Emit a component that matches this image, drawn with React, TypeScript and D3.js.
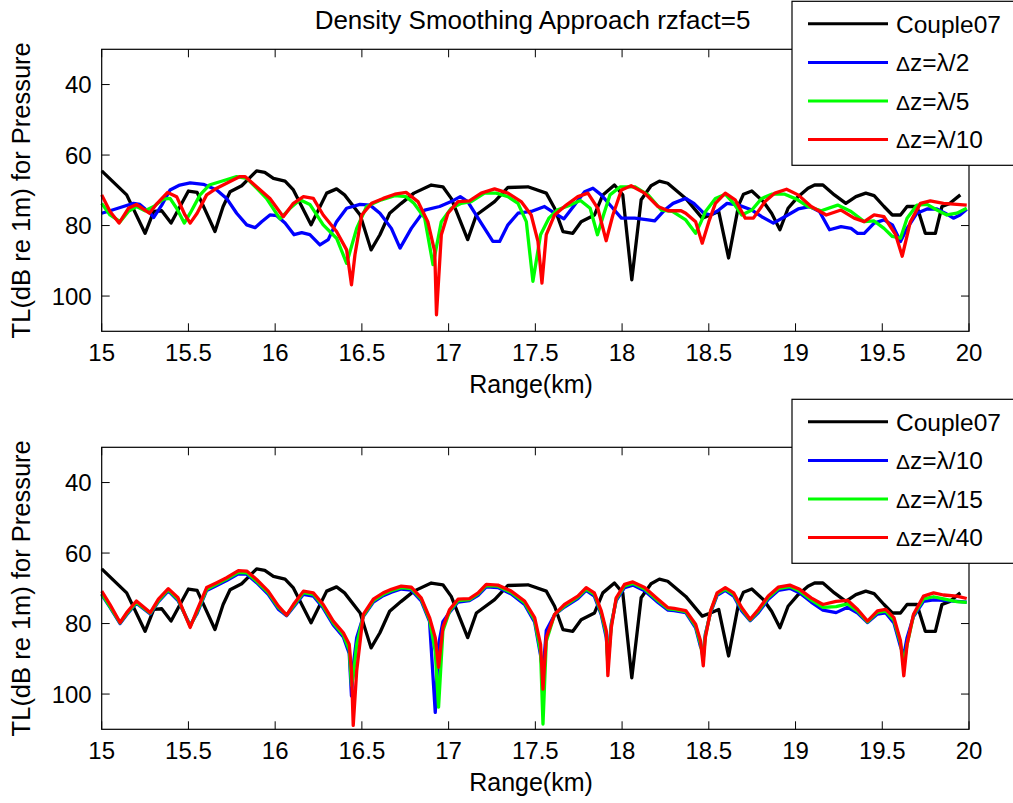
import React from "react";
import * as d3 from "d3";

// ---------- Data ----------
const couple07Range = [15, 15.144, 15.25, 15.3, 15.346, 15.4, 15.5, 15.55, 15.653, 15.7, 15.74, 15.807, 15.893, 15.94, 15.99, 16.057, 16.105, 16.207, 16.297, 16.354, 16.4, 16.49, 16.553, 16.604, 16.66, 16.727, 16.8, 16.9, 16.967, 17.015, 17.11, 17.16, 17.265, 17.342, 17.457, 17.563, 17.611, 17.659, 17.716, 17.764, 17.841, 17.889, 17.956, 18.004, 18.056, 18.11, 18.167, 18.215, 18.263, 18.367, 18.462, 18.51, 18.557, 18.614, 18.672, 18.7, 18.748, 18.814, 18.862, 18.91, 18.957, 19.015, 19.072, 19.11, 19.158, 19.224, 19.29, 19.348, 19.405, 19.453, 19.51, 19.558, 19.605, 19.643, 19.7, 19.748, 19.806, 19.844, 19.89, 19.95];
const couple07TL = [64.5, 71.3, 82.2, 76, 75.8, 79.3, 70.2, 70.6, 81.7, 74.6, 70.4, 68.7, 64.5, 64.9, 66.6, 67.4, 69.9, 79.8, 70.8, 69.6, 71.3, 77, 86.9, 82.6, 76.5, 73.7, 70.8, 68.5, 69, 72.3, 84, 77, 73.2, 69.2, 69, 70.8, 75.1, 81.7, 82.2, 78.9, 77, 71.3, 68.5, 71.3, 95.4, 72.7, 68.7, 67.4, 68, 72.3, 77.9, 77, 76, 89.2, 74.2, 71.1, 70.2, 73.2, 76.5, 81.2, 75.1, 71.8, 69.4, 68.5, 68.5, 71.3, 73.7, 71.8, 70.8, 71.5, 74.6, 77, 77, 74.6, 74.6, 82.2, 82.2, 74.6, 73.7, 71.3];

const dzHalfRange = [15, 15.048, 15.125, 15.183, 15.22, 15.28, 15.3, 15.346, 15.394, 15.45, 15.51, 15.586, 15.663, 15.72, 15.778, 15.836, 15.884, 15.922, 15.97, 16.009, 16.057, 16.109, 16.153, 16.2, 16.258, 16.306, 16.354, 16.412, 16.489, 16.547, 16.604, 16.67, 16.72, 16.785, 16.862, 16.948, 17.015, 17.067, 17.11, 17.188, 17.255, 17.294, 17.342, 17.4, 17.476, 17.553, 17.611, 17.665, 17.726, 17.784, 17.832, 17.88, 17.938, 17.996, 18.073, 18.15, 18.188, 18.245, 18.294, 18.367, 18.414, 18.471, 18.51, 18.557, 18.605, 18.672, 18.748, 18.805, 18.872, 18.938, 19.015, 19.081, 19.138, 19.196, 19.262, 19.32, 19.358, 19.396, 19.453, 19.51, 19.558, 19.605, 19.643, 19.7, 19.758, 19.815, 19.863, 19.91, 19.948, 19.987];
const dzHalfTL = [76.5, 75.8, 74.6, 73.7, 74, 76.5, 77.7, 74.2, 69.9, 68.5, 67.9, 68.3, 69.9, 72.3, 76.5, 79.8, 80.6, 78.9, 77, 77.2, 79.3, 82.6, 82, 82.6, 85.5, 84, 78.9, 75.1, 74, 74.2, 76.5, 80.8, 86.4, 80.8, 75.6, 74.6, 73.2, 71.8, 73.2, 79.3, 84.5, 84.5, 79.8, 76.5, 76, 74.6, 76.5, 78.1, 74.2, 70.4, 69.4, 71.3, 74.6, 77.9, 77.9, 78.4, 78.7, 75.6, 73.7, 72.3, 73.7, 76.5, 77, 75.6, 73.7, 74.2, 75.6, 77.5, 79.3, 77.5, 75.3, 74.6, 76, 81.2, 80.3, 80.8, 82.2, 82.2, 79.3, 78.4, 79.8, 84.5, 80.8, 76.5, 75.3, 75.3, 76.5, 77.9, 77, 75.4];

const dzFifthRange = [15, 15.048, 15.106, 15.154, 15.2, 15.25, 15.3, 15.355, 15.394, 15.432, 15.476, 15.51, 15.567, 15.62, 15.7, 15.778, 15.836, 15.893, 15.95, 16.028, 16.086, 16.143, 16.2, 16.277, 16.354, 16.412, 16.47, 16.527, 16.612, 16.69, 16.755, 16.8, 16.862, 16.91, 16.958, 17.015, 17.073, 17.13, 17.207, 17.274, 17.342, 17.4, 17.448, 17.486, 17.53, 17.578, 17.626, 17.7, 17.76, 17.816, 17.858, 17.893, 17.93, 17.99, 18.073, 18.15, 18.226, 18.29, 18.367, 18.424, 18.452, 18.481, 18.538, 18.595, 18.643, 18.69, 18.748, 18.805, 18.862, 18.938, 19.005, 19.072, 19.148, 19.243, 19.32, 19.396, 19.453, 19.51, 19.558, 19.605, 19.643, 19.7, 19.758, 19.815, 19.872, 19.93, 19.987];
const dzFifthTL = [73.7, 77, 78.9, 76, 74.6, 75.8, 74.6, 72.5, 72.3, 75.1, 79.3, 76.5, 71.3, 68.5, 67.3, 66.1, 66.6, 69.4, 72.3, 78.1, 75.1, 72.7, 74, 79.8, 83.6, 90.7, 80.8, 74.6, 72.7, 71.5, 71.8, 73.7, 77.9, 91.1, 78.9, 75.1, 73.7, 73.2, 70.8, 70.8, 71.8, 73.7, 78.9, 95.8, 82.6, 77.9, 75.6, 74.2, 72.9, 75.1, 82.6, 77, 71.3, 69, 69, 71.3, 75.6, 76, 78.4, 82.2, 79.3, 76, 72.3, 71.1, 73.7, 77, 75.6, 72.3, 71.1, 71.1, 72.5, 74.6, 75.8, 74.2, 76, 78.9, 78.7, 80.8, 83.1, 83.6, 77.9, 74.2, 74, 75.6, 77, 76.5, 75.1];

const dzTenthRange = [15, 15.048, 15.1, 15.154, 15.2, 15.275, 15.32, 15.38, 15.432, 15.48, 15.51, 15.55, 15.605, 15.663, 15.74, 15.797, 15.826, 15.893, 15.97, 16.047, 16.105, 16.163, 16.22, 16.277, 16.354, 16.412, 16.44, 16.46, 16.499, 16.556, 16.623, 16.69, 16.755, 16.823, 16.88, 16.92, 16.93, 16.958, 16.996, 17.054, 17.12, 17.188, 17.265, 17.342, 17.418, 17.476, 17.515, 17.538, 17.563, 17.611, 17.678, 17.745, 17.803, 17.86, 17.908, 17.947, 17.996, 18.052, 18.13, 18.207, 18.265, 18.34, 18.367, 18.424, 18.462, 18.5, 18.538, 18.595, 18.652, 18.71, 18.757, 18.824, 18.881, 18.948, 19.015, 19.09, 19.177, 19.262, 19.338, 19.396, 19.453, 19.51, 19.577, 19.615, 19.662, 19.72, 19.777, 19.853, 19.93, 19.987];
const dzTenthTL = [71.3, 76, 79.3, 75.1, 74, 76.5, 73.7, 70.6, 71.8, 77, 79.3, 76.5, 71.3, 69.4, 67.5, 66.1, 66.1, 69, 72.3, 77.5, 73.7, 71.8, 72.3, 77, 81.7, 86.9, 96.8, 88.3, 77, 73.7, 72.3, 71.1, 70.6, 73.2, 78.9, 87.4, 105.3, 82.6, 76.5, 73.2, 73, 70.8, 69.6, 70.8, 73.2, 77, 84.5, 96.3, 82.6, 77, 74.2, 71.8, 70.8, 75.1, 84.3, 77, 69.9, 68.7, 70.8, 74.6, 75.8, 75.8, 76.5, 78.9, 85, 78.9, 73.7, 70.8, 72.7, 77.9, 77.9, 73.2, 70.8, 69.7, 71.3, 74.6, 77, 75.6, 77.9, 78.9, 77, 77.5, 82.6, 88.7, 78.9, 73.7, 73, 73.7, 74, 74.2];

// bottom panel: shared range grid for the three fine-resolution runs
const fineRange = [15, 15.048, 15.106, 15.144, 15.2, 15.28, 15.327, 15.384, 15.44, 15.51, 15.548, 15.605, 15.663, 15.72, 15.788, 15.836, 15.893, 15.96, 16.018, 16.066, 16.105, 16.163, 16.22, 16.277, 16.335, 16.393, 16.427, 16.44, 16.45, 16.47, 16.508, 16.566, 16.623, 16.67, 16.727, 16.785, 16.842, 16.89, 16.923, 16.942, 16.967, 17.006, 17.054, 17.12, 17.17, 17.217, 17.284, 17.361, 17.438, 17.496, 17.53, 17.544, 17.563, 17.611, 17.668, 17.745, 17.793, 17.84, 17.88, 17.909, 17.918, 17.938, 17.966, 18.014, 18.062, 18.13, 18.207, 18.265, 18.3, 18.367, 18.424, 18.452, 18.468, 18.48, 18.51, 18.548, 18.595, 18.643, 18.69, 18.738, 18.786, 18.843, 18.9, 18.967, 19.024, 19.09, 19.158, 19.234, 19.3, 19.358, 19.415, 19.472, 19.52, 19.567, 19.605, 19.624, 19.643, 19.68, 19.738, 19.796, 19.853, 19.93, 19.987];
const dz10TL = [71.8, 75.4, 80, 77.5, 74.2, 77.3, 73.8, 70.7, 73.5, 80.5, 77.3, 70.6, 69.2, 67.8, 65.9, 66, 68.4, 71.7, 75.9, 77.8, 75.4, 71.7, 72.2, 75.6, 80.4, 83.8, 88.5, 100.5, 92, 84, 78, 73.9, 72.1, 71.1, 70.2, 70.5, 73.6, 79.4, 105.2, 86, 79.5, 76.8, 73.9, 73.5, 72, 69.6, 69.8, 71.6, 74.6, 79.6, 89, 94, 82, 77.5, 75.3, 72.9, 70.6, 72.2, 77.5, 84, 90, 80, 73.5, 69.8, 69.1, 70.7, 74, 76.2, 76.3, 76.9, 81.2, 86.5, 88, 83, 76.9, 72, 70.6, 72.2, 76.4, 79.2, 76.9, 73.1, 70.6, 70, 71.3, 73.9, 76.2, 76.9, 75.4, 77, 79.7, 77.3, 77, 79.8, 86.5, 89, 84, 78, 73.7, 73.3, 73.4, 73.7, 73.9];
const dz15TL = [71.5, 75.2, 79.8, 77.2, 74, 77.1, 73.5, 70.4, 73.1, 80.8, 76.9, 70.3, 68.8, 67.4, 65.5, 65.6, 68, 71.2, 75.4, 77.6, 75, 71.2, 71.7, 75.1, 79.8, 83.2, 87.5, 97.5, 95, 86, 77.8, 73.5, 71.7, 70.7, 69.8, 70.1, 73.1, 78.9, 88, 103.7, 82, 76.4, 73.5, 73.2, 71.6, 69.2, 69.4, 71.2, 74.1, 79, 88, 108.5, 85, 77.4, 75, 72.5, 70.2, 71.7, 77, 83, 92, 80.5, 73.1, 69.3, 68.6, 70.2, 73.5, 75.8, 76, 76.6, 80.7, 85.8, 90, 83.5, 76.6, 71.6, 70.2, 71.7, 75.9, 79, 76.4, 72.6, 70.1, 69.5, 70.8, 73.3, 75.4, 75.2, 74.4, 76.5, 79.5, 76.8, 76.5, 79, 85.5, 91.5, 86, 77.7, 73, 72.4, 73, 73.8, 74];
const dz40TL = [70.8, 74.6, 79.7, 76.9, 73.6, 76.9, 73.1, 70.1, 72.7, 81.1, 76.4, 69.8, 68.4, 67, 65, 65.1, 67.5, 70.8, 75, 77.6, 74.6, 70.8, 71.3, 74.6, 79.3, 82.6, 85.9, 93.4, 108.9, 93.4, 77.4, 73.1, 71.3, 70.3, 69.4, 69.7, 72.7, 78.3, 84, 92.4, 81.1, 76, 73.1, 72.9, 71.3, 68.9, 69.1, 70.8, 73.6, 78.3, 85.9, 98.6, 84, 77.4, 74.6, 72.2, 69.8, 71.3, 76.4, 82.1, 94.8, 81.1, 72.7, 68.9, 68.2, 69.8, 73.1, 75.5, 75.7, 76.3, 80.2, 84.9, 92, 84, 76.4, 71.3, 69.8, 71.3, 75.5, 78.8, 76, 72.2, 69.7, 69.1, 70.3, 72.7, 74.6, 73.7, 73.4, 76, 79.3, 76.4, 76, 78.3, 84.9, 94.8, 85.9, 77.4, 72.2, 71.3, 71.9, 72.2, 72.9];

const xTicks = [15, 15.5, 16, 16.5, 17, 17.5, 18, 18.5, 19, 19.5, 20];
const yTicks = [40, 60, 80, 100];
const topLabels = ["Couple07", "λ/2", "λ/5", "λ/10"];
const bottomLabels = ["Couple07", "λ/10", "λ/15", "λ/40"];
const colors = ["#000000", "#0000ff", "#00ff00", "#ff0000"];

const FONT = "'Liberation Sans', Arial, Helvetica, sans-serif";

const x = d3.scaleLinear().domain([15, 20]).range([101.7, 969]);

function zip(r: number[], v: number[]) {
  return r.map((d, i) => [d, v[i]] as [number, number]);
}

function Panel({ top, series, labels, showTitle }: any) {
  const y = d3.scaleLinear().domain([30, 110]).range([top, top + 282]);
  const [x0, x1] = x.range();
  const [y0, y1] = y.range();
  const line = d3.line<[number, number]>().x((d) => x(d[0])).y((d) => y(d[1]));
  const legendTop = top - 48;
  const legendX = 792;
  const rowY = (i: number) => legendTop + 22.5 + i * 38.6;
  return (
    <g>
      <rect x={x0} y={y0} width={x1 - x0} height={y1 - y0} fill="white" />
      {series.map((s: [number, number][], i: number) => (
        <path key={i} d={line(s) || ""} fill="none" stroke={colors[i]} strokeWidth={3.3} strokeLinejoin="round" />
      ))}
      <rect x={x0} y={y0} width={x1 - x0} height={y1 - y0} fill="none" stroke="#000" strokeWidth={1.2} />
      {xTicks.map((t) => (
        <g key={"x" + t}>
          <line x1={x(t)} x2={x(t)} y1={y1} y2={y1 - 8} stroke="#000" strokeWidth={1} />
          <line x1={x(t)} x2={x(t)} y1={y0} y2={y0 + 8} stroke="#000" strokeWidth={1} />
          <text x={x(t)} y={y1 + 30} textAnchor="middle" fontSize={24} fontFamily={FONT}>{t}</text>
        </g>
      ))}
      {yTicks.map((t) => (
        <g key={"y" + t}>
          <line x1={x0} x2={x0 + 8} y1={y(t)} y2={y(t)} stroke="#000" strokeWidth={1} />
          <line x1={x1} x2={x1 - 8} y1={y(t)} y2={y(t)} stroke="#000" strokeWidth={1} />
          <text x={91.7} y={y(t) + 8.6} textAnchor="end" fontSize={24} fontFamily={FONT}>{t}</text>
        </g>
      ))}
      <text x={531} y={y1 + 61.6} textAnchor="middle" fontSize={25} fontFamily={FONT}>Range(km)</text>
      <text transform={`translate(30,${(y0 + y1) / 2}) rotate(-90)`} textAnchor="middle" fontSize={25.5} fontFamily={FONT}>TL(dB re 1m) for Pressure</text>
      {showTitle && (
        <text x={532.5} y={28.5} textAnchor="middle" fontSize={26} fontFamily={FONT}>Density Smoothing Approach rzfact=5</text>
      )}
      <rect x={legendX} y={legendTop} width={240} height={164} fill="white" stroke="#000" strokeWidth={1.2} />
      {labels.map((lab: string, i: number) => (
        <g key={lab + i}>
          <line x1={legendX + 16} x2={legendX + 96} y1={rowY(i)} y2={rowY(i)} stroke={colors[i]} strokeWidth={3} />
          {i === 0 ? (
            <text x={legendX + 104} y={rowY(i) + 8.7} fontSize={24.5} fontFamily={FONT}>{lab}</text>
          ) : (
            <text x={legendX + 104} y={rowY(i) + 8.7} fontSize={24.5} fontFamily={FONT}>
              <tspan fontSize={21}>Δ</tspan>z=<tspan>{lab}</tspan>
            </text>
          )}
        </g>
      ))}
    </g>
  );
}

export default function App() {
  const topSeries = [
    zip(couple07Range, couple07TL),
    zip(dzHalfRange, dzHalfTL),
    zip(dzFifthRange, dzFifthTL),
    zip(dzTenthRange, dzTenthTL),
  ];
  const bottomSeries = [
    zip(couple07Range, couple07TL),
    zip(fineRange, dz10TL),
    zip(fineRange, dz15TL),
    zip(fineRange, dz40TL),
  ];
  return (
    <svg width={1013} height={803} style={{ position: "absolute", left: 0, top: 0, background: "white" }}>
      <rect width={1013} height={803} fill="white" />
      <Panel top={49.3} series={topSeries} labels={topLabels} showTitle />
      <Panel top={447.3} series={bottomSeries} labels={bottomLabels} showTitle={false} />
    </svg>
  );
}
